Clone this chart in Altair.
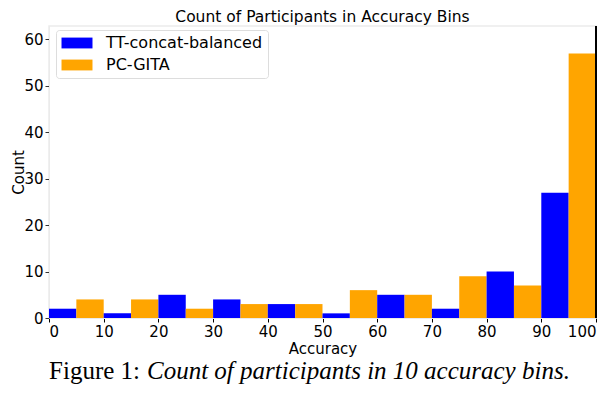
import altair as alt
import pandas as pd

bin_starts = [0, 10, 20, 30, 40, 50, 60, 70, 80, 90]
bin_width = 10
series_names = ["TT-concat-balanced", "PC-GITA"]
tt_counts = [2, 1, 5, 4, 3, 1, 5, 2, 10, 27]
pc_counts = [4, 4, 2, 3, 3, 6, 5, 9, 7, 57]
colors = ["#0000ff", "#ffa500"]
x_ticks = [0, 10, 20, 30, 40, 50, 60, 70, 80, 90, 100]
y_ticks = [0, 10, 20, 30, 40, 50, 60]

rows = []
for i, s in enumerate(bin_starts):
    half = bin_width / 2
    rows.append({"series": series_names[0], "x0": s, "x1": s + half, "count": tt_counts[i]})
    rows.append({"series": series_names[1], "x0": s + half, "x1": s + bin_width, "count": pc_counts[i]})
df = pd.DataFrame(rows)

W, H = 547, 292
FONT = "DejaVu Sans"

bars = alt.Chart(df).mark_bar(strokeWidth=0).encode(
    x=alt.X("x0:Q", scale=alt.Scale(domain=[0, 100], nice=False, zero=False),
            axis=alt.Axis(values=x_ticks, title="Accuracy", format="d", grid=False,
                          tickColor="black", tickSize=4, domainColor="#ebebeb",
                          labelFont=FONT, labelFontSize=15, labelColor="black", labelPadding=2,
                          titleFont=FONT, titleFontSize=15, titleFontWeight="normal",
                          titleColor="black", titlePadding=2)),
    x2="x1:Q",
    y=alt.Y("count:Q", scale=alt.Scale(domain=[0, 62.9], nice=False),
            axis=alt.Axis(values=y_ticks, title="Count", grid=False,
                          tickColor="#333333", tickSize=4, domainColor="#ebebeb",
                          labelFont=FONT, labelFontSize=15, labelColor="black", labelPadding=2,
                          titleFont=FONT, titleFontSize=15, titleFontWeight="normal",
                          titleColor="black", titleX=-23, titleBaseline="bottom")),
    y2=alt.datum(0),
    color=alt.Color("series:N", scale=alt.Scale(domain=series_names, range=colors),
                    sort=series_names,
                    legend=alt.Legend(title=None, orient="none", legendX=7, legendY=4,
                                      symbolType="M-2,-0.7H2V0.7H-2Z", symbolSize=240,
                                      symbolOffset=8,
                                      symbolStrokeWidth=0, symbolOpacity=1,
                                      labelFont=FONT, labelFontSize=16, labelColor="black",
                                      labelOffset=21, rowPadding=6,
                                      padding=5, strokeColor="#dddddd", cornerRadius=3,
                                      fillColor="white")),
)

right_edge = alt.Chart(df).mark_rule(color="black", strokeWidth=1.2).encode(
    x=alt.value(W), y=alt.value(0), y2=alt.value(H)
)

cap1 = alt.Chart(pd.DataFrame({"t": ["Figure 1:"]})).mark_text(
    font="Liberation Serif", fontSize=25, align="right", baseline="alphabetic", color="black"
).encode(x=alt.value(91), y=alt.value(353), text="t:N")

cap2 = alt.Chart(pd.DataFrame({"t": ["Count of participants in 10 accuracy bins."]})).mark_text(
    font="Liberation Serif", fontSize=25, fontStyle="italic", align="left",
    baseline="alphabetic", color="black"
).encode(x=alt.value(98), y=alt.value(353), text="t:N")

chart = alt.layer(bars, right_edge, cap1, cap2).properties(
    width=W, height=H,
    title=alt.TitleParams("Count of Participants in Accuracy Bins", font=FONT, fontSize=15.5,
                          fontWeight="normal", color="black", offset=0),
    autosize=alt.AutoSizeParams(type="none"),
    padding={"left": 41, "top": 18, "right": 12, "bottom": 67},
).configure_view(stroke="#ebebeb", strokeWidth=1.5)

chart.save("out.html", embed_options={"renderer": "svg", "actions": False})
